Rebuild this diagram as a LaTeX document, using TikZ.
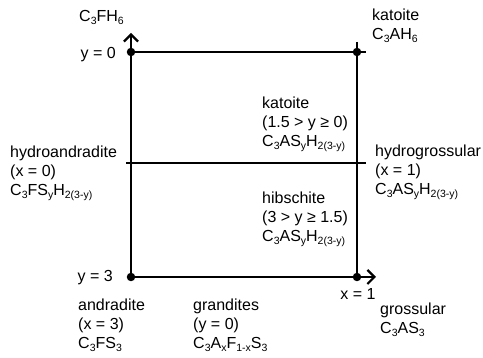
\documentclass[tikz,border=0pt]{standalone}
\usepackage{fontspec}
\setmainfont{Liberation Sans}
\usetikzlibrary{arrows.meta}
\newcommand\sbs[1]{\raisebox{-3.2pt}{\fontsize{10.5}{10.5}\selectfont #1}}
\begin{document}
\begin{tikzpicture}[x=1pt,y=-1pt,
  axis/.style={line width=2.2pt},
  tip/.style={-{Straight Barb[length=7pt,width=14pt,line width=2.2pt]}},
  dot/.style={circle,fill=black,inner sep=0pt,minimum size=8.5pt},
  lbl/.style={inner sep=0pt,align=left,anchor=base west,font=\fontsize{16}{18.7}\selectfont},
  lble/.style={inner sep=0pt,anchor=base east,font=\fontsize{16}{18.7}\selectfont},
  lblc/.style={inner sep=0pt,anchor=base,font=\fontsize{16}{18.7}\selectfont}]
\useasboundingbox (0,0) rectangle (483,358);
% corner points
\node[dot] (tl) at (131,52) {};
\node[dot] (tr) at (357,52) {};
\node[dot] (bl) at (131,277) {};
\node[dot] (br) at (357,277) {};
\coordinate (up) at (131,33);
\coordinate (rt) at (376,277);
\coordinate (topend) at (366,52);
\coordinate (rtop) at (357,42);
\coordinate (ml) at (126,163);
\coordinate (mr) at (366,163);
% lines
\draw[axis,tip] (bl.center) -- (up);
\draw[axis,tip] (bl.center) -- (rt);
\draw[axis] (tl.center) -- (topend);
\draw[axis] (rtop) -- (br.center);
\draw[axis] (ml) -- (mr);
% labels (base = baseline of the last line)
\node[lbl] (c3fh6) at (79,21.5) {C\sbs{3}FH\sbs{6}};
\node[lble] (y0) at (116,58.5) {y = 0};
\node[lbl] (kat1) at (372,39.7) {katoite\\C\sbs{3}AH\sbs{6}};
\node[lbl] (kat2) at (262,146.4) {katoite\\(1.5 > y ≥ 0)\\C\sbs{3}AS\sbs{y}H\sbs{2(3-y)}};
\node[lbl] (hydroand) at (10,195.4) {hydroandradite\\(x = 0)\\C\sbs{3}FS\sbs{y}H\sbs{2(3-y)}};
\node[lbl] (hydrogro) at (375,194.4) {hydrogrossular\\(x = 1)\\C\sbs{3}AS\sbs{y}H\sbs{2(3-y)}};
\node[lbl] (hib) at (262,241.4) {hibschite\\(3 > y ≥ 1.5)\\C\sbs{3}AS\sbs{y}H\sbs{2(3-y)}};
\node[lble] (y3) at (113,282) {y = 3};
\node[lblc] (x1) at (358,300) {x = 1};
\node[lbl] (andr) at (78,348.4) {andradite\\(x = 3)\\C\sbs{3}FS\sbs{3}};
\node[lbl] (gran) at (193,348.4) {grandites\\(y = 0)\\C\sbs{3}A\sbs{x}F\sbs{1-x}S\sbs{3}};
\node[lbl] (gross) at (380,333.7) {grossular\\C\sbs{3}AS\sbs{3}};
\end{tikzpicture}
\end{document}
